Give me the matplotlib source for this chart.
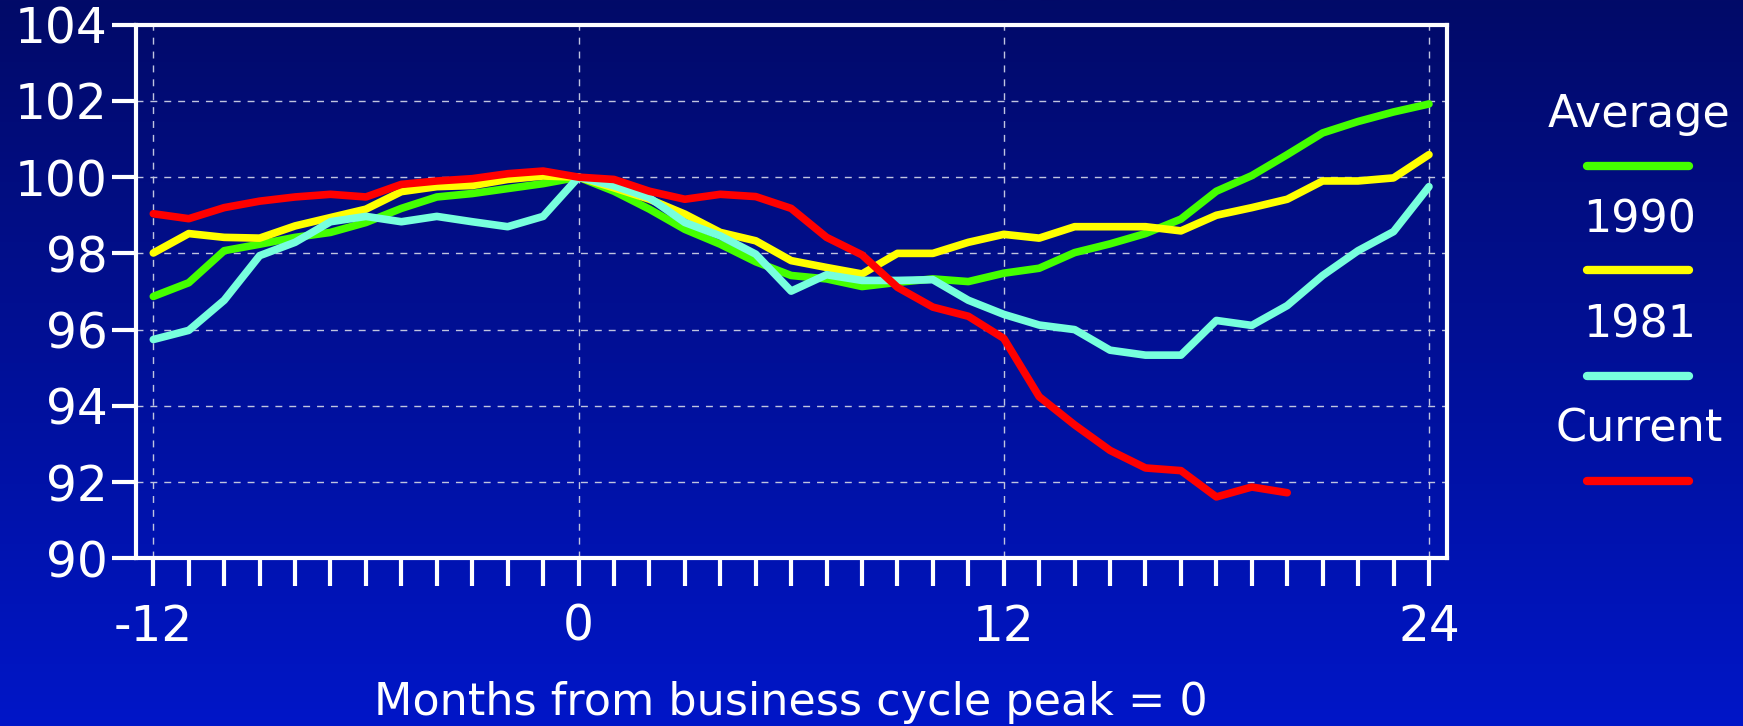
import matplotlib
matplotlib.use("Agg")
import matplotlib.pyplot as plt
from matplotlib.lines import Line2D
from matplotlib.colors import LinearSegmentedColormap
import numpy as np

months = list(range(-12, 25))
months_current = list(range(-12, 21))

average = [96.87, 97.23, 98.07, 98.24, 98.42, 98.55, 98.81, 99.18, 99.48, 99.57, 99.70, 99.83, 100.0,
           99.63, 99.16, 98.63, 98.24, 97.78, 97.42, 97.33, 97.13, 97.24, 97.33, 97.26, 97.48,
           97.61, 98.02, 98.25, 98.52, 98.90, 99.63, 100.04, 100.59, 101.16, 101.46, 101.71, 101.92]
y1990 = [98.01, 98.52, 98.42, 98.40, 98.72, 98.94, 99.16, 99.62, 99.75, 99.78, 99.94, 100.03, 100.0,
         99.72, 99.42, 99.03, 98.55, 98.33, 97.81, 97.63, 97.46, 98.0, 98.0, 98.29, 98.5,
         98.4, 98.7, 98.7, 98.7, 98.59, 99.0, 99.2, 99.42, 99.9, 99.9, 99.98, 100.59]
y1981 = [95.74, 95.98, 96.77, 97.94, 98.29, 98.83, 98.97, 98.83, 98.97, 98.83, 98.70, 98.97, 100.0,
         99.77, 99.46, 98.81, 98.46, 97.98, 97.01, 97.44, 97.29, 97.29, 97.31, 96.77, 96.4,
         96.12, 96.0, 95.46, 95.33, 95.33, 96.24, 96.11, 96.63, 97.42, 98.07, 98.57, 99.75]
current = [99.04, 98.91, 99.2, 99.37, 99.48, 99.55, 99.48, 99.81, 99.9, 99.96, 100.09, 100.16, 100.0,
           99.94, 99.63, 99.42, 99.55, 99.49, 99.18, 98.42, 97.96, 97.11, 96.59, 96.35, 95.77,
           94.24, 93.5, 92.83, 92.37, 92.3, 91.61, 91.87, 91.72]

labels = ["Average", "1990", "1981", "Current"]
colors = ["#44ff00", "#ffff00", "#77ffdd", "#ff0000"]
yticks = list(range(90, 105, 2))
xticks_major = [-12, 0, 12, 24]

plt.rcParams['font.family'] = ['DejaVu Sans']
plt.rcParams['axes.unicode_minus'] = False

fig = plt.figure(figsize=(17.43, 7.26), dpi=100)

# background gradient
bg = fig.add_axes([0, 0, 1, 1], zorder=-10)
cmap = LinearSegmentedColormap.from_list("bg", ["#020a68", "#0016c8"])
bg.imshow(np.linspace(0, 1, 256).reshape(-1, 1), aspect="auto", cmap=cmap,
          extent=[0, 1, 0, 1])
bg.axis("off")

ax = fig.add_axes([0.0778, 0.231, 0.7522, 0.735])
ax.patch.set_alpha(0)

lw = 5.5
ax.plot(months, average, color=colors[0], lw=lw, solid_capstyle="round", zorder=3)
ax.plot(months, y1990, color=colors[1], lw=lw, solid_capstyle="round", zorder=3)
ax.plot(months, y1981, color=colors[2], lw=lw, solid_capstyle="round", zorder=4)
ax.plot(months_current, current, color=colors[3], lw=lw, solid_capstyle="round", zorder=5)

ax.set_xlim(-12.5, 24.5)
ax.set_ylim(90, 104)
ax.set_yticks(yticks)
ax.set_xticks(xticks_major)
ax.set_xticks(months, minor=True)

for s in ax.spines.values():
    s.set_color("white")
    s.set_linewidth(3)

ax.tick_params(axis="both", which="both", colors="white", width=3,
               direction="out", labelsize=35)
ax.tick_params(axis="y", which="both", length=17, pad=3)
ax.tick_params(axis="x", which="both", length=20, pad=12)
ax.grid(True, which="major", color="#c0c4e0", linestyle=(0, (5, 5)), linewidth=1)

fig.text(0.454, 0.032, "Months from business cycle peak = 0", color="white",
         fontsize=32, ha="center", va="center")

# legend: label above a line sample
text_y = [0.842, 0.697, 0.553, 0.409]
line_y = [0.772, 0.628, 0.482, 0.337]
for lab, c, ty, ly in zip(labels, colors, text_y, line_y):
    fig.text(0.9405, ty, lab, color="white", fontsize=32, ha="center", va="center")
    fig.add_artist(Line2D([0.9105, 0.969], [ly, ly], transform=fig.transFigure,
                          color=c, lw=6, solid_capstyle="round"))

fig.savefig("out.png", dpi=100)
